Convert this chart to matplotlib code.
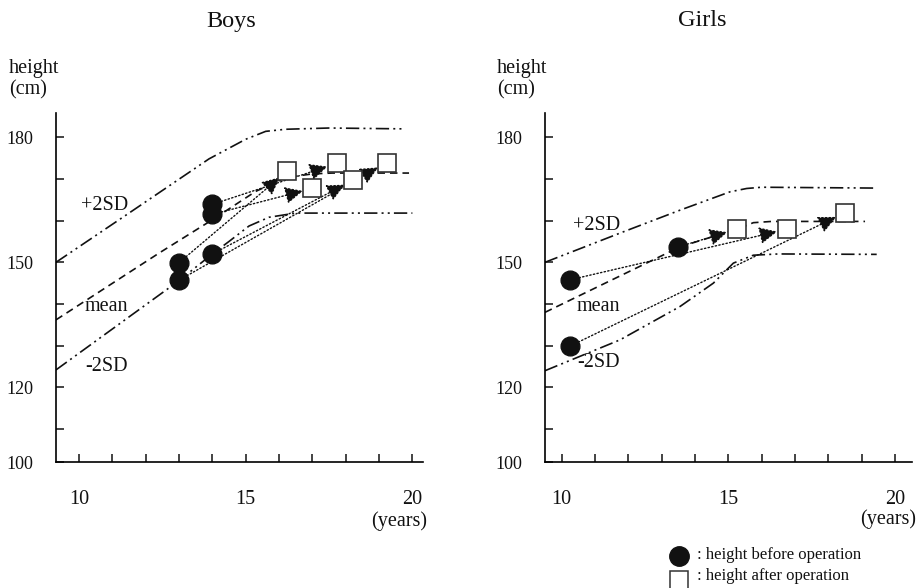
import matplotlib
matplotlib.use("Agg")
import matplotlib.pyplot as plt
from matplotlib.lines import Line2D

plt.rcParams["font.family"] = ["Liberation Serif", "DejaVu Serif"]

# reference curves (age in years, height in cm)
boys_p2_age = [9.31, 11.5, 13.9, 15.0, 15.6, 16.2, 17.5, 19.7]
boys_p2_h = [150.0, 161.8, 174.8, 179.5, 181.4, 181.9, 182.2, 182.0]
boys_mean_age = [9.31, 12.4, 14.0, 15.3, 16.2, 17.0, 17.6, 19.9]
boys_mean_h = [136.2, 152.2, 160.2, 167.0, 170.3, 171.2, 171.4, 171.4]
boys_m2_age = [9.31, 13.0, 14.0, 14.5, 15.1, 15.7, 16.5, 20.0]
boys_m2_h = [124.2, 145.6, 152.0, 155.0, 158.7, 160.8, 161.8, 161.8]

girls_p2_age = [9.5, 11.75, 13.55, 15.05, 15.55, 16.0, 19.35]
girls_p2_h = [150.0, 157.0, 162.5, 166.9, 167.7, 168.0, 167.8]
girls_mean_age = [9.5, 13.55, 15.35, 15.75, 16.3, 19.1]
girls_mean_h = [138.0, 153.7, 158.2, 159.5, 159.8, 159.8]
girls_m2_age = [9.5, 11.75, 13.55, 14.55, 15.15, 15.75, 16.5, 19.45]
girls_m2_h = [124.0, 131.4, 139.4, 145.0, 149.8, 151.7, 152.0, 151.9]

# patients: before -> after operation
boys_before_age = [13.0, 14.0, 14.0, 14.0, 13.0]
boys_before_h = [149.9, 163.9, 161.5, 152.0, 145.7]
boys_after_age = [16.25, 17.73, 17.0, 18.23, 19.23]
boys_after_h = [171.9, 173.7, 167.7, 169.7, 173.9]

girls_before_age = [10.25, 13.5, 10.25]
girls_before_h = [145.8, 153.7, 129.9]
girls_after_age = [16.75, 15.25, 18.5]
girls_after_h = [157.9, 157.9, 161.9]

x_ticks = list(range(10, 21))
x_tick_labels = ["10", "", "", "", "", "15", "", "", "", "", "20"]
y_ticks = [102.04, 110, 120, 130, 140, 150, 160, 170, 180]
y_tick_labels = ["100", "", "120", "", "", "150", "", "", "180"]

DASHDOTDOT = (0, (8, 2.5, 1.2, 2.5, 1.2, 2.5))
DASHED = (0, (4.5, 3))
INK = "#111111"


def draw_panel(ax, xlim, curves, before, after, labels):
    ax.set_xlim(*xlim)
    ax.set_ylim(102.04, 185.8)
    for (xs, ys), ls in zip(curves, [DASHDOTDOT, DASHED, DASHDOTDOT]):
        ax.plot(xs, ys, color=INK, lw=1.2, linestyle=ls)

    for x0, y0, x1, y1 in zip(before[0], before[1], after[0], after[1]):
        ax.annotate("", xy=(x1, y1), xytext=(x0, y0),
                    arrowprops=dict(arrowstyle="-|>,head_length=0.42,head_width=0.2",
                                    linestyle=":", lw=1.0, color=INK,
                                    mutation_scale=26, shrinkA=4, shrinkB=7))
    ax.plot(before[0], before[1], "o", color=INK, ms=13.5, ls="none", zorder=4)
    ax.plot(after[0], after[1], "s", mfc="white", mec="#333333", mew=1.2,
            ms=12.5, ls="none", zorder=4)

    for (tx, ty), s in zip(labels, ["+2SD", "mean", "-2SD"]):
        ax.text(tx, ty, s, fontsize=14.5, ha="center", va="center", color=INK)

    ax.spines["top"].set_visible(False)
    ax.spines["right"].set_visible(False)
    ax.spines["left"].set_linewidth(1.2)
    ax.spines["bottom"].set_linewidth(1.2)
    ax.set_xticks(x_ticks)
    ax.set_xticklabels(x_tick_labels)
    ax.set_yticks(y_ticks)
    ax.set_yticklabels(y_tick_labels)
    ax.tick_params(axis="x", direction="in", length=6, width=1.1, pad=20,
                   labelsize=14.5, colors=INK)
    ax.tick_params(axis="y", direction="in", length=6, width=1.1, pad=16,
                   labelsize=13, colors=INK)


fig = plt.figure(figsize=(9.21, 5.88), dpi=100)
W, H = 921, 588

ax_b = fig.add_axes([56 / W, 1 - 462.3 / H, 366.7 / W, 349.3 / H])
ax_g = fig.add_axes([545 / W, 1 - 462.3 / H, 366.7 / W, 349.3 / H])

draw_panel(ax_b, (9.31, 20.31),
           [(boys_p2_age, boys_p2_h), (boys_mean_age, boys_mean_h), (boys_m2_age, boys_m2_h)],
           (boys_before_age, boys_before_h), (boys_after_age, boys_after_h),
           [(10.78, 163.7), (10.83, 139.5), (10.83, 125.1)])
draw_panel(ax_g, (9.5, 20.5),
           [(girls_p2_age, girls_p2_h), (girls_mean_age, girls_mean_h), (girls_m2_age, girls_m2_h)],
           (girls_before_age, girls_before_h), (girls_after_age, girls_after_h),
           [(11.04, 158.9), (11.1, 139.4), (11.1, 126.0)])

fig.text(231 / W, 1 - 21 / H, "Boys", fontsize=17.5, ha="center", va="center", color=INK)
fig.text(702 / W, 1 - 21 / H, "Girls", fontsize=17.5, ha="center", va="center", color=INK)
for x_left in (9, 497):
    fig.text(x_left / W, 1 - 79 / H, "height\n(cm)", fontsize=14.5, ha="left",
             va="center", linespacing=1.15, color=INK)
fig.text(399 / W, 1 - 521 / H, "(years)", fontsize=14.5, ha="center", va="center", color=INK)
fig.text(888 / W, 1 - 519 / H, "(years)", fontsize=14.5, ha="center", va="center", color=INK)

# legend
fig.add_artist(Line2D([679 / W], [1 - 555.5 / H], marker="o", color=INK, ms=14,
                      ls="none", transform=fig.transFigure))
fig.add_artist(Line2D([679 / W], [1 - 580 / H], marker="s", mfc="white", mec="#333333",
                      mew=1.1, ms=13, ls="none", transform=fig.transFigure))
fig.text(697 / W, 1 - 555 / H, ": height before operation", fontsize=12, ha="left",
         va="center", color=INK)
fig.text(697 / W, 1 - 576 / H, ": height after operation", fontsize=12, ha="left",
         va="center", color=INK)

fig.savefig("out.png", dpi=100)
